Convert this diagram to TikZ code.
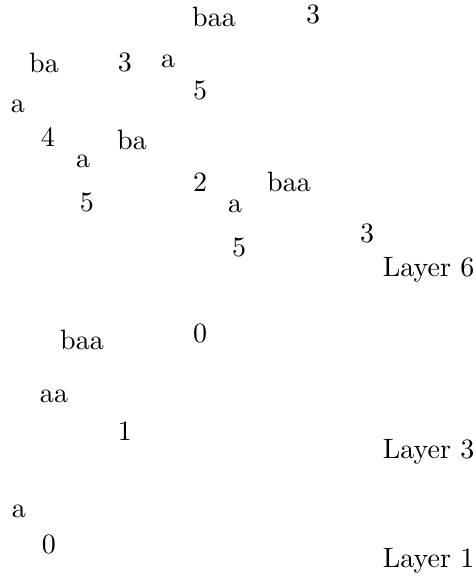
\documentclass[tikz,border=0pt]{standalone}
\usepackage{tikz}

\begin{document}
\begin{tikzpicture}[
        x=0.357pt, y=-0.357pt,
        word/.style={inner sep=0pt, anchor=base},
        num/.style={inner sep=0pt, anchor=base},
        layer/.style={inner sep=0pt, anchor=base east}
      ]
        \useasboundingbox (0,0) rectangle (475,582);

        % Layer 6
        \node[word] (w1) at (214,27) {baa};
        \node[num] (n1) at (313,24) {3};
        \node[word] (w2) at (44,73) {ba};
        \node[num] (n2) at (125,72) {3};
        \node[word] (w3) at (168,68) {a};
        \node[num] (n3) at (200,100) {5};
        \node[word] (w4) at (18,113) {a};
        \node[num] (n4) at (48,147) {4};
        \node[word] (w5) at (132,150) {ba};
        \node[word] (w6) at (83,168) {a};
        \node[num] (n5) at (200,192) {2};
        \node[num] (n6) at (87,212) {5};
        \node[word] (w7) at (289,192) {baa};
        \node[word] (w8) at (235,213) {a};
        \node[num] (n7) at (367,243) {3};
        \node[num] (n8) at (239,257) {5};
        \node[layer] (layer6) at (475,277) {Layer 6};

        % Layer 3
        \node[word] (w9) at (82,350) {baa};
        \node[num] (n9) at (200,343) {0};
        \node[word] (w10) at (54,402) {aa};
        \node[num] (n10) at (125,440) {1};
        \node[layer] (layer3) at (475,458) {Layer 3};

        % Layer 1
        \node[word] (w11) at (19,517) {a};
        \node[num] (n11) at (49,553) {0};
        \node[layer] (layer1) at (475,567) {Layer 1};
      \end{tikzpicture}
\end{document}
